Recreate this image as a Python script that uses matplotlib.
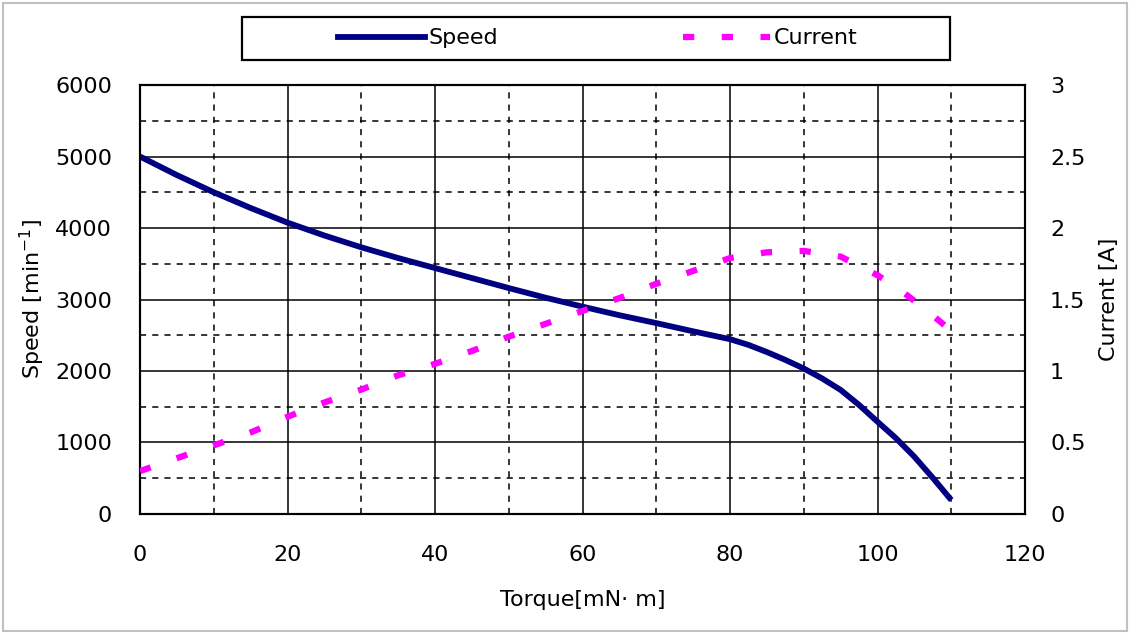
import numpy as np
import matplotlib.pyplot as plt
from matplotlib.patches import Rectangle
from matplotlib.lines import Line2D

plt.rcParams['font.family'] = ['DejaVu Sans']
plt.rcParams['mathtext.default'] = 'regular'

# speed curve (left axis)
torque_s = [0, 5, 10, 15, 20, 25, 30, 35, 40, 45, 50, 55, 60, 65, 70, 75, 80,
            82.5, 85, 87.5, 90, 92.5, 95, 97.5, 100, 102.5, 105, 107.5, 110]
speed = [5000, 4740, 4500, 4280, 4075, 3895, 3730, 3580, 3440, 3300, 3160, 3025, 2900, 2780, 2670, 2555, 2445,
         2365, 2265, 2155, 2035, 1895, 1735, 1525, 1290, 1060, 800, 505, 195]

# current curve (right axis)
torque_c = [0, 5, 10, 15, 20, 25, 30, 35, 40, 45, 50, 55, 60, 65, 70, 75, 80, 85, 90, 95, 100, 103.5, 107, 110]
current = [0.30, 0.39, 0.48, 0.57, 0.68, 0.78, 0.87, 0.97, 1.05, 1.14, 1.24, 1.33, 1.42, 1.51, 1.61, 1.70, 1.79,
           1.83, 1.84, 1.80, 1.67, 1.55, 1.41, 1.28]

fig = plt.figure(figsize=(11.3, 6.34), dpi=100)
ax = fig.add_axes([0.1239, 0.1893, 0.7832, 0.6766])
ax2 = ax.twinx()

# grid by hand: solid at majors, dashed at halves
for x in range(10, 120, 10):
    ls = '-' if x % 20 == 0 else (0, (4, 4))
    ax.axvline(x, color='black', lw=1.1, ls=ls, zorder=1)
for y in range(500, 6000, 500):
    ls = '-' if y % 1000 == 0 else (0, (4, 4))
    ax.axhline(y, color='black', lw=1.1, ls=ls, zorder=1)

cur_ls = (0, (1.8, 4.4))
ax.plot(torque_s, speed, color='#000080', lw=4.2, zorder=4, solid_capstyle='butt', solid_joinstyle='round')
ax2.plot(torque_c, current, color='#ff00ff', lw=4.5, ls=cur_ls, zorder=3)

ax.set_xlim(0, 120)
ax.set_ylim(0, 6000)
ax2.set_ylim(0, 3)
ax.set_xticks(range(0, 121, 20))
ax.set_yticks(range(0, 6001, 1000))
ax2.set_yticks([0, 0.5, 1, 1.5, 2, 2.5, 3])
ax2.set_yticklabels(['0', '0.5', '1', '1.5', '2', '2.5', '3'])

ax.tick_params(axis='both', length=0, labelsize=16, colors='black')
ax.tick_params(axis='y', pad=20)
ax.tick_params(axis='x', pad=22)
ax2.tick_params(axis='y', length=0, labelsize=16, pad=18)

for sp in ax.spines.values():
    sp.set_linewidth(1.5)
for sp in ax2.spines.values():
    sp.set_linewidth(1.5)

ax.set_xlabel('Torque[mN\u00b7 m]', fontsize=16, labelpad=18)
ax.set_ylabel('Speed [min$^{-1}$]', fontsize=16, labelpad=6)
ax2.set_ylabel('Current [A]', fontsize=16, labelpad=10)

# legend box at top
fig.patches.append(Rectangle((0.2142, 0.9054), 0.6265, 0.0678, transform=fig.transFigure,
                             fill=False, edgecolor='black', lw=1.6))
handles = [Line2D([], [], color='#000080', lw=4.2),
           Line2D([], [], color='#ff00ff', lw=4.5, ls=cur_ls)]
leg = fig.legend(handles, ['Speed', 'Current'], loc='center',
                 bbox_to_anchor=(0.529, 0.9393), ncol=2, fontsize=16,
                 frameon=False, handlelength=3.9, handletextpad=0.18,
                 columnspacing=8.3)

# outer light frame
fig.patches.append(Rectangle((0.003, 0.005), 0.994, 0.99, transform=fig.transFigure,
                             fill=False, edgecolor='#c0c0c0', lw=1.5))

fig.savefig('out.png', dpi=100)
